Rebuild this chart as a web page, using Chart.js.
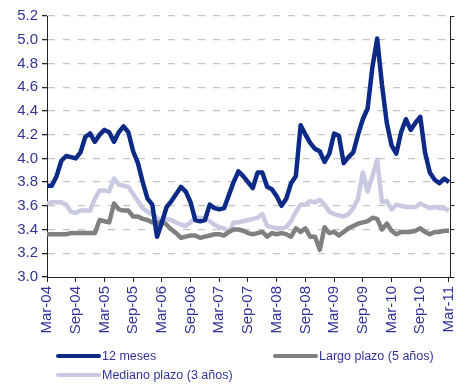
<!DOCTYPE html>
<html>
<head>
<meta charset="utf-8">
<script src="https://cdn.jsdelivr.net/npm/chart.js@4.4.1/dist/chart.umd.min.js"></script>
<style>
html,body{margin:0;padding:0;background:#fff;}
#wrap{position:relative;width:471px;height:385px;}
</style>
</head>
<body>
<div id="wrap"><canvas id="c" width="471" height="385"></canvas></div>
<script>
// Tick labels on the x axis (every 6 months, Mar-04 .. Mar-11)
const tickLabels = ["Mar-04","Sep-04","Mar-05","Sep-05","Mar-06","Sep-06","Mar-07","Sep-07","Mar-08","Sep-08","Mar-09","Sep-09","Mar-10","Sep-10","Mar-11"];
const seriesNames = ["12 meses","Largo plazo (5 años)","Mediano plazo (3 años)"];

// Monthly values, Mar-04 .. Mar-11 (85 months)
const doceMeses = [
3.77,3.77,3.85,3.98,4.02,4.01,4.00,4.05,4.18,4.21,
4.14,4.20,4.24,4.22,4.14,4.22,4.27,4.22,4.06,3.96,
3.80,3.66,3.61,3.34,3.46,3.59,3.64,3.70,3.76,3.72,
3.63,3.48,3.47,3.48,3.61,3.58,3.57,3.58,3.69,3.80,
3.89,3.85,3.80,3.75,3.88,3.88,3.76,3.74,3.68,3.60,
3.66,3.79,3.85,4.28,4.20,4.13,4.08,4.06,3.97,4.04,
4.21,4.19,3.96,4.01,4.05,4.20,4.33,4.42,4.77,5.01,
4.62,4.30,4.11,4.04,4.22,4.33,4.24,4.30,4.35,4.05,
3.88,3.82,3.79,3.83,3.80];
const largoPlazo = [
3.36,3.36,3.36,3.36,3.36,3.37,3.37,3.37,3.37,3.37,
3.37,3.48,3.47,3.46,3.62,3.57,3.56,3.56,3.51,3.51,
3.49,3.48,3.46,3.45,3.47,3.44,3.40,3.37,3.33,3.34,
3.35,3.35,3.33,3.34,3.35,3.36,3.36,3.35,3.38,3.40,
3.40,3.39,3.37,3.36,3.37,3.38,3.34,3.37,3.36,3.37,
3.36,3.34,3.41,3.38,3.41,3.34,3.34,3.23,3.42,3.37,
3.38,3.35,3.38,3.41,3.43,3.45,3.46,3.47,3.50,3.49,
3.40,3.45,3.39,3.36,3.38,3.38,3.38,3.39,3.41,3.38,
3.36,3.38,3.38,3.39,3.39];
const medianoPlazo = [
3.62,3.63,3.63,3.63,3.61,3.55,3.54,3.56,3.56,3.56,
3.66,3.73,3.73,3.72,3.83,3.78,3.77,3.76,3.70,3.64,
3.58,3.55,3.53,3.50,3.45,3.49,3.48,3.46,3.44,3.43,
3.46,3.50,3.50,3.49,3.47,3.44,3.42,3.41,3.38,3.46,
3.46,3.47,3.48,3.49,3.50,3.53,3.43,3.42,3.41,3.41,
3.42,3.47,3.55,3.61,3.61,3.64,3.63,3.65,3.61,3.55,
3.53,3.52,3.51,3.53,3.58,3.66,3.88,3.72,3.85,3.99,
3.63,3.64,3.57,3.61,3.60,3.59,3.59,3.59,3.62,3.60,
3.58,3.59,3.58,3.58,3.56];

const colors = ["#0c2a86","#808080","#c9c9e2"];
const labelColor = "#333399";
const fontFamily = "'Liberation Sans', Arial, sans-serif";
const toPts = arr => arr.map((v,i)=>({x:i,y:v}));

const legendPlugin = {
  id:'customLegend',
  afterDraw(chart){
    const ctx = chart.ctx;
    const items = [
      {name:seriesNames[0], color:colors[0], x:58, y:356},
      {name:seriesNames[1], color:colors[1], x:275, y:356},
      {name:seriesNames[2], color:colors[2], x:58, y:375}
    ];
    ctx.save();
    ctx.font = "12.5px " + fontFamily;
    ctx.textBaseline = 'middle';
    ctx.textAlign = 'left';
    items.forEach(it=>{
      ctx.strokeStyle = it.color;
      ctx.lineWidth = 4;
      ctx.lineCap = 'round';
      ctx.beginPath();
      ctx.moveTo(it.x, it.y);
      ctx.lineTo(it.x+41, it.y);
      ctx.stroke();
      ctx.fillStyle = labelColor;
      ctx.fillText(it.name, it.x+44, it.y+1);
    });
    ctx.restore();
  }
};

new Chart(document.getElementById('c'), {
  type:'line',
  data:{
    datasets:[
      {label:seriesNames[0], data:toPts(doceMeses), borderColor:colors[0], borderWidth:4.5, pointRadius:0, tension:0, order:0, borderJoinStyle:'round'},
      {label:seriesNames[2], data:toPts(medianoPlazo), borderColor:colors[2], borderWidth:4.5, pointRadius:0, tension:0, order:2, borderJoinStyle:'round'},
      {label:seriesNames[1], data:toPts(largoPlazo), borderColor:colors[1], borderWidth:4.5, pointRadius:0, tension:0, order:1, borderJoinStyle:'round'}
    ]
  },
  options:{
    responsive:false,
    animation:false,
    events:[],
    layout:{padding:{top:16,left:0,right:0,bottom:0}},
    plugins:{legend:{display:false}, tooltip:{enabled:false}},
    scales:{
      x:{
        type:'linear', min:0, max:84.3,
        afterFit(s){ s.height = 108; },
        ticks:{
          stepSize:6, includeBounds:false, autoSkip:false,
          maxRotation:90, minRotation:90, padding:4,
          color:labelColor, font:{family:fontFamily, size:15},
          callback(v){ return (v % 6 === 0) ? tickLabels[v/6] : null; }
        },
        grid:{drawOnChartArea:false, drawTicks:true, tickLength:5, tickColor:'#222', color:'#222'},
        border:{display:true, color:'#222', width:1}
      },
      y:{
        min:3.0, max:5.2,
        afterFit(s){ s.width = 47; },
        ticks:{
          stepSize:0.2, padding:4,
          color:labelColor, font:{family:fontFamily, size:15},
          callback(v){ return v.toFixed(1); }
        },
        grid:{
          color(ctx){ return ctx.index === 0 ? 'rgba(0,0,0,0)' : '#c4c4c4'; },
          lineWidth:1.3,
          drawTicks:true, tickLength:5, tickColor:'#222'
        },
        border:{display:true, color:'#222', width:1, dash:[7,8]}
      },
      y2:{
        position:'right', min:3.0, max:5.2,
        afterFit(s){ s.width = 8; },
        ticks:{display:false, stepSize:0.2},
        grid:{drawOnChartArea:false, drawTicks:true, tickLength:4, tickColor:'#222'},
        border:{display:true, color:'#222', width:1}
      }
    }
  },
  plugins:[legendPlugin]
});
</script>
</body>
</html>
